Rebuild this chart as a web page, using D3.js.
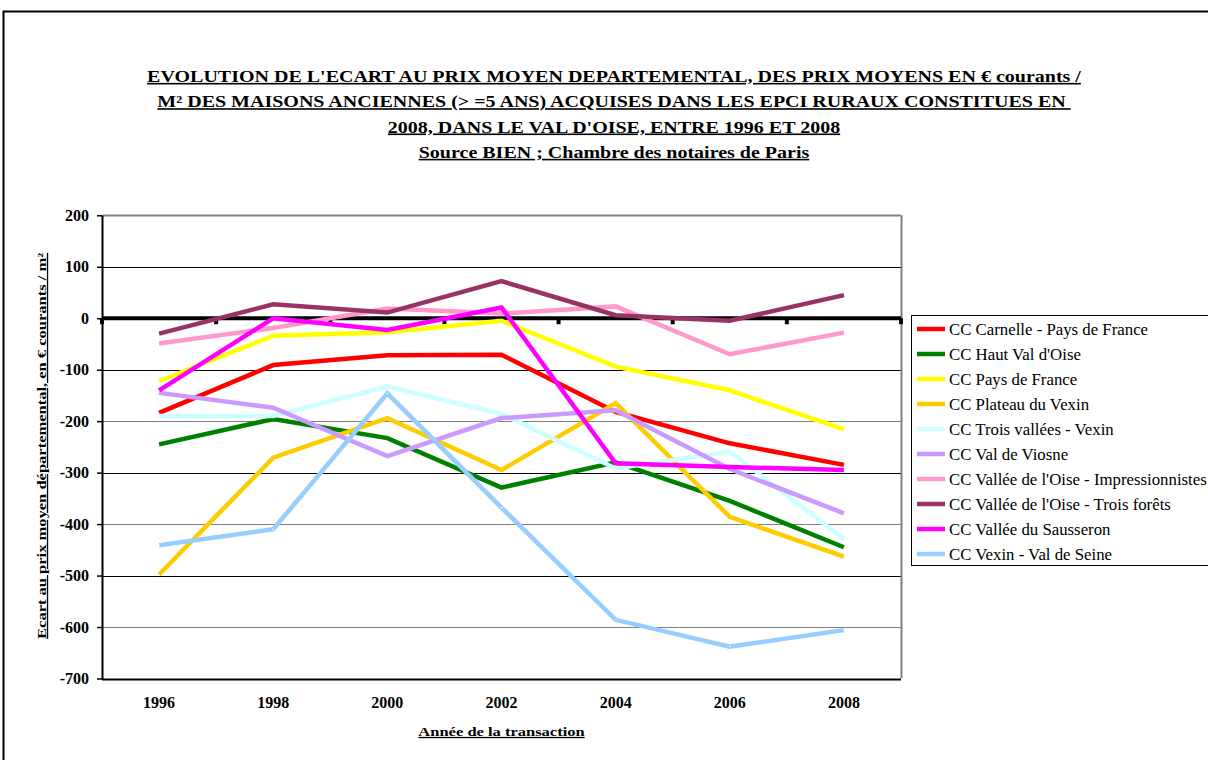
<!DOCTYPE html>
<html>
<head>
<meta charset="utf-8">
<script src="https://cdn.jsdelivr.net/npm/d3@7"></script>
<style>
  html, body { margin: 0; padding: 0; background: #fff; }
  svg { display: block; }
  text { font-family: "Liberation Serif", "Times New Roman", serif; }
</style>
</head>
<body>
<svg id="chart" width="1208" height="760"></svg>
<script>
// Years of transaction (x categories)
const years = ["1996", "1998", "2000", "2002", "2004", "2006", "2008"];

// Gap to the departmental average price, € courants / m²
const carnelle      = [-184, -91, -72, -71, -182, -243, -285];
const hautValOise   = [-245, -196, -233, -329, -280, -355, -445];
const paysFrance    = [-122, -34, -27, -5, -94, -140, -216];
const plateauVexin  = [-498, -271, -194, -295, -165, -386, -463];
const troisVallees  = [-190, -190, -133, -186, -292, -259, -429];
const valViosne     = [-145, -174, -268, -194, -179, -293, -379];
const oiseImpress   = [-49, -19, 19, 9, 23, -70, -28];
const oiseForets    = [-30, 27, 11, 72, 6, -5, 45];
const sausseron     = [-140, 0, -23, 21, -282, -289, -295];
const vexinSeine    = [-441, -410, -146, -368, -586, -638, -606];

const seriesNames = [
  "CC Carnelle - Pays de France",
  "CC Haut Val d'Oise",
  "CC Pays de France",
  "CC Plateau du Vexin",
  "CC Trois vallées - Vexin",
  "CC Val de Viosne",
  "CC Vallée de l'Oise - Impressionnistes",
  "CC Vallée de l'Oise - Trois forêts",
  "CC Vallée du Sausseron",
  "CC Vexin - Val de Seine"
];
const seriesValues = [carnelle, hautValOise, paysFrance, plateauVexin, troisVallees,
                      valViosne, oiseImpress, oiseForets, sausseron, vexinSeine];
const seriesColors = ["#FF0000", "#008000", "#FFFF00", "#FFCC00", "#CCFFFF",
                      "#CC99FF", "#FF99CC", "#993366", "#FF00FF", "#99CCFF"];

const yTicks = [200, 100, 0, -100, -200, -300, -400, -500, -600, -700];

const titleLines = [
  "EVOLUTION DE L'ECART AU PRIX MOYEN DEPARTEMENTAL, DES PRIX MOYENS EN € courants /",
  "M² DES MAISONS ANCIENNES (> =5 ANS) ACQUISES DANS LES EPCI RURAUX CONSTITUES EN\u00a0",
  "2008, DANS LE VAL D'OISE, ENTRE 1996 ET 2008",
  "Source BIEN ; Chambre des notaires de Paris"
];
const yTitle = "Ecart au prix moyen départemental, en € courants / m²";
const xTitle = "Année de la transaction";

const series = seriesNames.map((name, i) => ({
  name, color: seriesColors[i],
  points: years.map((yr, j) => ({ year: yr, value: seriesValues[i][j] }))
}));

const svg = d3.select("#chart");

// outer frame of the chart sheet
svg.append("rect")
  .attr("x", 3.5).attr("y", 11.5)
  .attr("width", 1220).attr("height", 780)
  .attr("fill", "none").attr("stroke", "#000").attr("stroke-width", 2);

// title block (wide, condensed-looking serif)
const title = svg.append("g");
titleLines.forEach((t, i) => {
  title.append("text")
    .attr("transform", `translate(614,${82 + i * 25.3}) scale(1.25,1)`)
    .attr("text-anchor", "middle")
    .attr("font-size", 16).attr("font-weight", "bold")
    .attr("text-decoration", "underline")
    .text(t);
});

// plot area
const plot = { left: 102, right: 901, top: 215.3, bottom: 678.5 };

const x = d3.scaleBand().domain(years).range([plot.left, plot.right]);
const y = d3.scaleLinear().domain([-700, 200]).range([plot.bottom, plot.top]);

// horizontal gridlines
svg.append("g")
  .selectAll("line")
  .data(yTicks.filter(v => v !== 0))
  .join("line")
  .attr("x1", plot.left).attr("x2", plot.right)
  .attr("y1", d => Math.round(y(d)) + 0.5).attr("y2", d => Math.round(y(d)) + 0.5)
  .attr("stroke", d => (d % 200 === 0 ? "#808080" : "#000"))
  .attr("stroke-width", d => (d === 200 || d === -700 ? 2 : 1));

// right border of plot area
svg.append("line")
  .attr("x1", plot.right + 0.5).attr("x2", plot.right + 0.5)
  .attr("y1", plot.top).attr("y2", plot.bottom)
  .attr("stroke", "#808080").attr("stroke-width", 2);

// y axis
const yAxis = svg.append("g")
  .attr("transform", `translate(${plot.left},0)`)
  .call(d3.axisLeft(y).tickValues(yTicks).tickFormat(d => String(d))
    .tickSize(5).tickSizeOuter(0).tickPadding(8));
yAxis.select(".domain").attr("stroke", "#000").attr("stroke-width", 2);
yAxis.selectAll(".tick line").attr("stroke", "#000").attr("stroke-width", 1.5);
yAxis.selectAll(".tick text")
  .attr("font-family", "Liberation Serif, Times New Roman, serif")
  .attr("font-size", 16).attr("font-weight", "bold").attr("fill", "#000");

// category axis sitting on the zero line, with ticks between categories
const x0 = y(0);
const xAxisG = svg.append("g");
xAxisG.append("line")
  .attr("x1", plot.left).attr("x2", plot.right)
  .attr("y1", x0).attr("y2", x0)
  .attr("stroke", "#000").attr("stroke-width", 4);
const bounds = years.map(yr => x(yr)).concat([x(years[years.length - 1]) + x.bandwidth()]);
xAxisG.selectAll("line.tk")
  .data(bounds)
  .join("line").attr("class", "tk")
  .attr("x1", d => d).attr("x2", d => d)
  .attr("y1", x0).attr("y2", x0 + 6)
  .attr("stroke", "#000").attr("stroke-width", 4);

// category labels below the plot
svg.append("g")
  .selectAll("text")
  .data(years)
  .join("text")
  .attr("x", d => x(d) + x.bandwidth() / 2)
  .attr("y", 708)
  .attr("text-anchor", "middle")
  .attr("font-size", 16).attr("font-weight", "bold")
  .text(d => d);

// axis titles
svg.append("text")
  .attr("transform", `translate(${(plot.left + plot.right) / 2},736) scale(1.27,1)`)
  .attr("text-anchor", "middle")
  .attr("font-size", 13).attr("font-weight", "bold")
  .attr("text-decoration", "underline")
  .text(xTitle);

svg.append("text")
  .attr("transform", `translate(46,${(plot.top + plot.bottom) / 2 - 1}) rotate(-90) scale(1.27,1)`)
  .attr("text-anchor", "middle")
  .attr("font-size", 13).attr("font-weight", "bold")
  .attr("text-decoration", "underline")
  .text(yTitle);

// series lines
const line = d3.line()
  .x(d => x(d.year) + x.bandwidth() / 2)
  .y(d => y(d.value));

const lines = svg.append("g");
series.forEach(s => {
  lines.append("path")
    .datum(s.points)
    .attr("d", line)
    .attr("fill", "none")
    .attr("stroke", s.color)
    .attr("stroke-width", 4.5)
    .attr("stroke-linejoin", "miter");
});

// tiny white markers on the last series
lines.append("g")
  .selectAll("rect")
  .data(series[9].points)
  .join("rect")
  .attr("x", d => x(d.year) + x.bandwidth() / 2 - 1)
  .attr("y", d => y(d.value) - 0.5)
  .attr("width", 2).attr("height", 1)
  .attr("fill", "#fff");

// legend
const legend = svg.append("g");
legend.append("rect")
  .attr("x", 911.5).attr("y", 315.5)
  .attr("width", 310).attr("height", 250)
  .attr("fill", "#fff").attr("stroke", "#000").attr("stroke-width", 1);
series.forEach((s, i) => {
  const ly = 329 + i * 25;
  legend.append("line")
    .attr("x1", 917).attr("x2", 945)
    .attr("y1", ly).attr("y2", ly)
    .attr("stroke", s.color).attr("stroke-width", 4.5);
  legend.append("text")
    .attr("transform", `translate(949,${ly + 6}) scale(1.05,1)`)
    .attr("font-size", 16)
    .text(s.name);
});
</script>
</body>
</html>
